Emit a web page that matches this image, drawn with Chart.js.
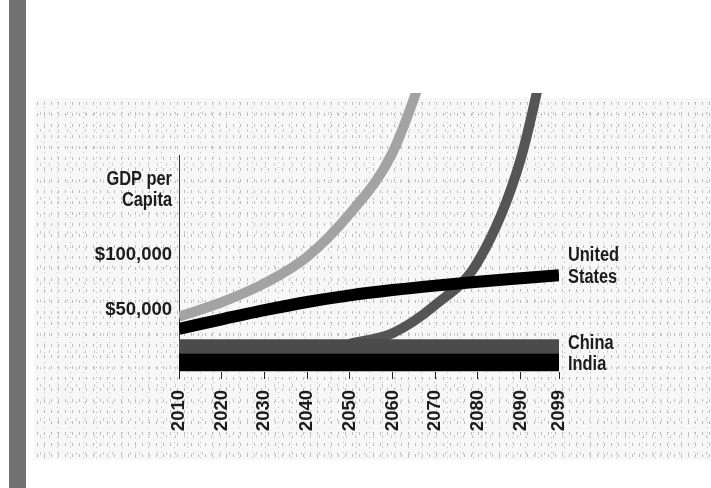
<!DOCTYPE html>
<html>
<head>
<meta charset="utf-8">
<script src="https://cdn.jsdelivr.net/npm/chart.js"></script>
<style>
    html, body { margin: 0; padding: 0; background: #fff; }
    #page { position: relative; width: 711px; height: 488px; overflow: hidden; }
    #edge { position: absolute; left: 9px; top: 0; width: 17px; height: 488px; background: #727272; }
    #stipple {
        position: absolute; left: 34px; top: 98px; width: 677px; height: 362px;
        background-color: #f7f7f7;
        background-image:
            radial-gradient(#bcbcbc 0.7px, transparent 0.9px),
            radial-gradient(#c4c4c4 0.7px, transparent 0.9px),
            radial-gradient(#cdcdcd 0.6px, transparent 0.8px);
        background-size: 7px 11px, 13px 5px, 9px 17px;
        background-position: 0 0, 4px 2px, 2px 7px;
    }
    #wrap { position: absolute; left: 0; top: 0; }
</style>
</head>
<body>
<div id="page">
    <div id="edge"></div>
    <div id="stipple"></div>
    <div id="wrap"><canvas id="chartGdp" width="711" height="488"></canvas></div>
</div>
<script>
// Data
const years = [2010, 2020, 2030, 2040, 2050, 2060, 2070, 2080, 2090, 2099];
const tickYears = [2010, 2020, 2030, 2040, 2050, 2060, 2070, 2080, 2090, 2099];
const yTicks = [50000, 100000];

const unitedStates = [33000, 41600, 49800, 57200, 63200, 68000, 72000, 75500, 78600, 81300];
const lightCurve = [44000, 57000, 74000, 98000, 137000, 192000, 295000, null, null, null];
const darkCurve = [null, null, null, null, 19500, 29000, 54500, 93500, 186000, 340000];
const chinaBand = [17200, 17200, 17200, 17200, 17200, 17200, 17200, 17200, 17200, 17200];
const indiaBand = [2850, 2850, 2850, 2850, 2850, 2850, 2850, 2850, 2850, 2850];

const axisTitle = ['GDP per', 'Capita'];
const usName = ['United', 'States'];

function points(values) {
    return years.map((y, i) => ({ x: y, y: values[i] }));
}

// condensed bold text, drawn with a horizontal squeeze
function condensedText(ctx, text, x, y, align) {
    ctx.save();
    ctx.translate(x, y);
    ctx.scale(0.82, 1);
    ctx.textAlign = align;
    ctx.textBaseline = 'middle';
    ctx.fillText(text, 0, 0);
    ctx.restore();
}

const labelPlugin = {
    id: 'labels',
    afterDatasetsDraw(chart) {
        const ctx = chart.ctx;
        const area = chart.chartArea;
        ctx.save();
        ctx.fillStyle = '#1c1c1c';
        ctx.font = 'bold 20px "Liberation Sans", Arial, sans-serif';

        // y axis title
        condensedText(ctx, axisTitle[0], area.left - 7, area.top + 24, 'right');
        condensedText(ctx, axisTitle[1], area.left - 7, area.top + 45, 'right');

        // end labels
        const endOf = (idx) => {
            const pts = chart.getDatasetMeta(idx).data;
            return pts[pts.length - 1];
        };
        const us = endOf(0);
        condensedText(ctx, usName[0], us.x + 9, us.y - 20, 'left');
        condensedText(ctx, usName[1], us.x + 9, us.y + 2, 'left');
        const ind = endOf(1);
        condensedText(ctx, 'India', ind.x + 9, ind.y + 2, 'left');
        const chn = endOf(2);
        condensedText(ctx, 'China', chn.x + 9, chn.y - 3, 'left');
        ctx.restore();
    }
};

const clipTop = { left: 0, top: 62, right: 0, bottom: 12 };

new Chart(document.getElementById('chartGdp'), {
    type: 'line',
    data: {
        datasets: [
            { label: 'United States', data: points(unitedStates), borderColor: '#000', borderWidth: 12, order: 0 },
            { label: 'India', data: points(indiaBand), borderColor: '#000', borderWidth: 18, order: 1 },
            { label: 'China', data: points(chinaBand), borderColor: '#4b4b4b', borderWidth: 14, order: 2 },
            { label: 'rising curve 2', data: points(darkCurve), borderColor: '#555', borderWidth: 10, order: 3 },
            { label: 'rising curve 1', data: points(lightCurve), borderColor: '#a3a3a3', borderWidth: 10, order: 4 }
        ]
    },
    options: {
        responsive: false,
        devicePixelRatio: 1,
        animation: false,
        layout: { padding: { left: 0, right: 152, top: 155, bottom: 0 } },
        datasets: {
            line: {
                clip: clipTop,
                pointRadius: 0,
                cubicInterpolationMode: 'monotone',
                borderCapStyle: 'butt',
                spanGaps: false
            }
        },
        plugins: {
            legend: { display: false },
            tooltip: { enabled: false }
        },
        scales: {
            x: {
                type: 'linear',
                min: 2010,
                max: 2099,
                afterBuildTicks: (s) => { s.ticks = tickYears.map(v => ({ value: v })); },
                afterFit: (s) => { s.height = 116; },
                border: { display: false },
                grid: { drawOnChartArea: false, drawTicks: true, tickLength: 7, color: '#222', lineWidth: 1 },
                ticks: {
                    autoSkip: false,
                    minRotation: 90,
                    maxRotation: 90,
                    padding: 11,
                    color: '#1c1c1c',
                    font: { family: '"Liberation Sans", Arial, sans-serif', size: 18.5, weight: 'bold' },
                    callback: (v) => String(v)
                }
            },
            y: {
                type: 'linear',
                min: -6000,
                max: 190000,
                afterBuildTicks: (s) => { s.ticks = yTicks.map(v => ({ value: v })); },
                afterFit: (s) => { s.width = 179; },
                border: { display: true, color: '#333', width: 1 },
                grid: { display: false, drawTicks: false },
                ticks: {
                    padding: 7,
                    color: '#1c1c1c',
                    font: { family: '"Liberation Sans", Arial, sans-serif', size: 18.5, weight: 'bold' },
                    callback: (v) => '$' + v.toLocaleString('en-US')
                }
            }
        }
    },
    plugins: [labelPlugin]
});
</script>
</body>
</html>
